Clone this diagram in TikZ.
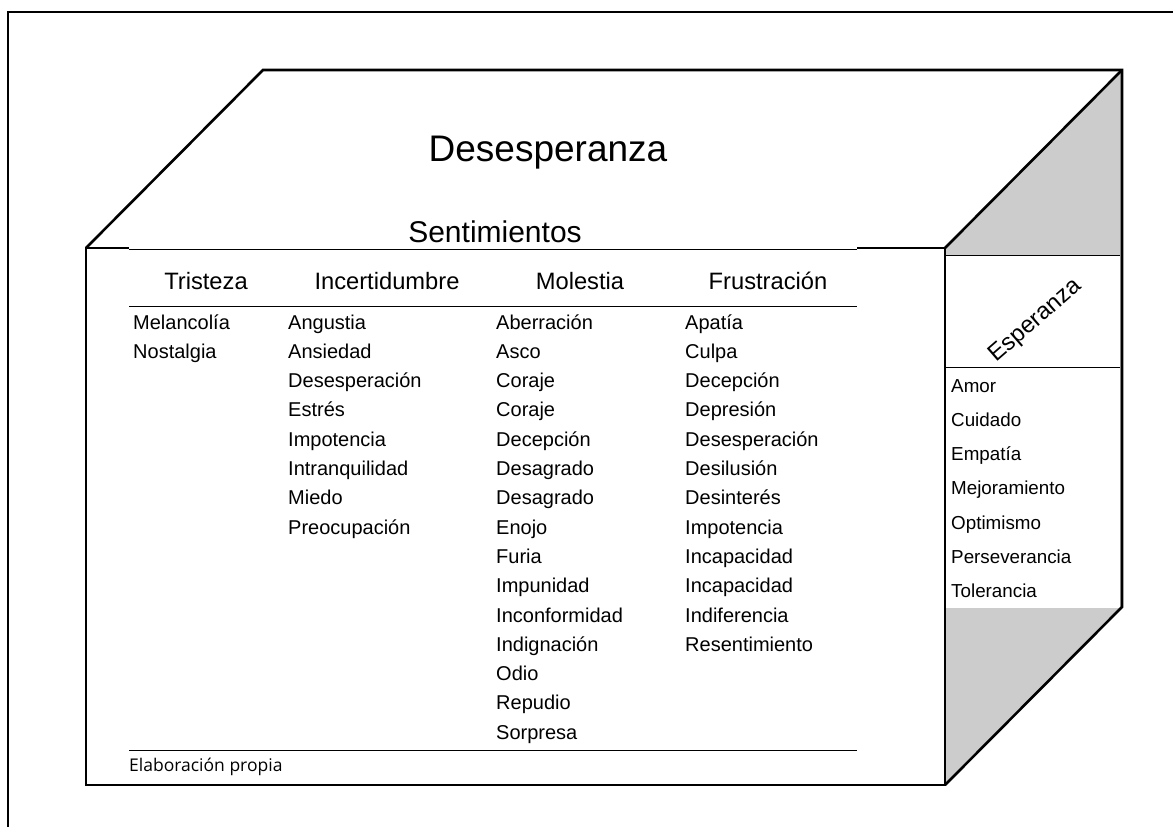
\documentclass[tikz,border=0pt]{standalone}
\usepackage{fontspec}
\setmainfont{Liberation Sans}
\newfontfamily\notefont{Open Sans}
\usetikzlibrary{positioning}

\begin{document}
\begin{tikzpicture}[x=1pt, y=-1pt,
  cubeline/.style={line width=2.6pt, line join=miter},
  tablerule/.style={line width=0.9pt},
  headtxt/.style={font=\fontsize{23.7}{28}\selectfont, inner sep=0pt},
  itemtxt/.style={font=\fontsize{20}{24}\selectfont, anchor=base west, inner sep=0pt},
  sidetxt/.style={font=\fontsize{18.8}{22}\selectfont, anchor=base west, inner sep=0pt}]
\useasboundingbox (0,0) rectangle (1173,827);

% marco de la pagina
\draw[line width=1.6pt] (8,827) -- (8,12) -- (1173,12);

% cara lateral gris con su recuadro blanco
\fill[black!20] (945,248) -- (1122,70) -- (1122,607) -- (945,785) -- cycle;
\fill[white] (945,255) rectangle (1120,608);
\draw[tablerule] (945,255) -- (1120,255);
\draw[tablerule] (945,367) -- (1120,367);

% aristas del cubo
\draw[cubeline] (129,248) -- (86,248) -- (86,785) -- (945,785) -- (945,248) -- (857,248);
\draw[cubeline] (86,248) -- (263,70) -- (1122,70) -- (1122,607) -- (945,785);
\draw[cubeline] (945,248) -- (1122,70);

% titulos
\node (titulo) at (548,153) {\fontsize{37}{44}\selectfont Desesperanza};
\node (sent) at (495,232) {\fontsize{30}{36}\selectfont Sentimientos};

% tabla de sentimientos
\draw[tablerule] (129,249) -- (857,249);
\draw[tablerule] (129,306) -- (857,306);
\draw[tablerule] (129,750) -- (857,750);

\node[headtxt] (tristeza) at (206,281) {Tristeza};
\node[headtxt] (incert) at (387,281) {Incertidumbre};
\node[headtxt] (molestia) at (580,281) {Molestia};
\node[headtxt] (frustr) at (768,281) {Frustración};

\foreach \w [count=\i] in {Melancolía, Nostalgia}
  \node[itemtxt] (tr\i) at (133,{329+29.3*(\i-1)}) {\w};
\foreach \w [count=\i] in {Angustia, Ansiedad, Desesperación, Estrés, Impotencia,
    Intranquilidad, Miedo, Preocupación}
  \node[itemtxt] (in\i) at (288,{329+29.3*(\i-1)}) {\w};
\foreach \w [count=\i] in {Aberración, Asco, Coraje, Coraje, Decepción, Desagrado,
    Desagrado, Enojo, Furia, Impunidad, Inconformidad, Indignación, Odio, Repudio, Sorpresa}
  \node[itemtxt] (mo\i) at (496,{329+29.3*(\i-1)}) {\w};
\foreach \w [count=\i] in {Apatía, Culpa, Decepción, Depresión, Desesperación, Desilusión,
    Desinterés, Impotencia, Incapacidad, Incapacidad, Indiferencia, Resentimiento}
  \node[itemtxt] (fr\i) at (685,{329+29.3*(\i-1)}) {\w};

\node[anchor=west, inner sep=0pt] (fuente) at (129,767) {\notefont\fontsize{17.5}{20}\selectfont Elaboración propia};

% cara lateral: esperanza
\node[headtxt, rotate=41] (esperanza) at (1036,321) {Esperanza};
\foreach \w [count=\i] in {Amor, Cuidado, Empatía, Mejoramiento, Optimismo,
    Perseverancia, Tolerancia}
  \node[sidetxt] (es\i) at (951,{392+34.3*(\i-1)}) {\w};
\end{tikzpicture}
\end{document}
